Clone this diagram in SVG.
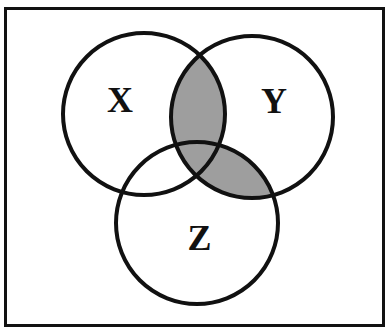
<svg xmlns="http://www.w3.org/2000/svg" width="386" height="329" viewBox="0 0 386 329">
  <style>
    .ring { fill: none; stroke: #111; stroke-width: 4; }
    .lbl { font-family: "Liberation Serif", "Times New Roman", serif; font-weight: bold; font-size: 36px; fill: #111; text-anchor: middle; }
    .shade { fill: #9e9e9e; }
  </style>
  <defs>
    <clipPath id="clipY">
      <circle cx="252" cy="117" r="81"/>
    </clipPath>
  </defs>
  <rect x="5.5" y="8.5" width="378" height="317" fill="#fff" stroke="#111" stroke-width="3"/>
  <g id="shading" clip-path="url(#clipY)">
    <circle class="shade" cx="144" cy="114" r="81"/>
    <circle class="shade" cx="197" cy="223" r="81"/>
  </g>
  <g id="X">
    <circle class="ring" cx="144" cy="114" r="81"/>
    <text class="lbl" x="120" y="112">X</text>
  </g>
  <g id="Y">
    <circle class="ring" cx="252" cy="117" r="81"/>
    <text class="lbl" x="274" y="113">Y</text>
  </g>
  <g id="Z">
    <circle class="ring" cx="197" cy="223" r="81"/>
    <text class="lbl" x="199.5" y="250">Z</text>
  </g>
  <g id="connectors"/>
</svg>
